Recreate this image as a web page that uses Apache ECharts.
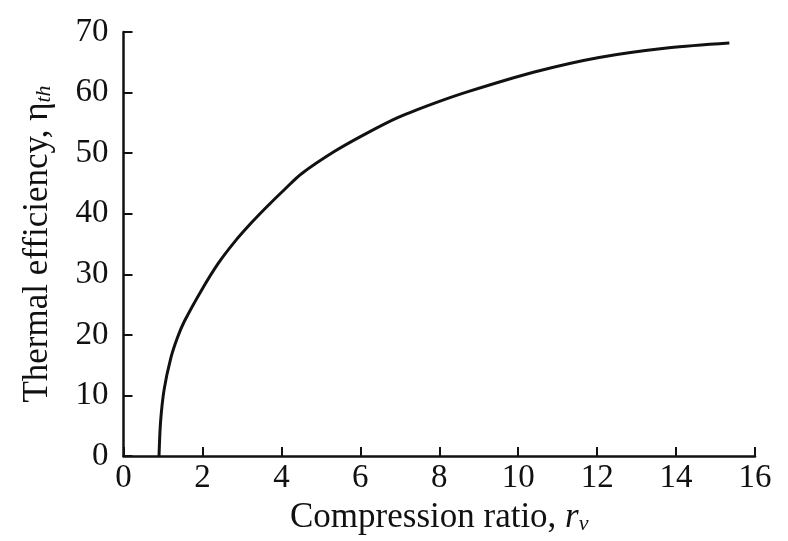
<!DOCTYPE html>
<html>
<head>
<meta charset="utf-8">
<script src="https://cdn.jsdelivr.net/npm/echarts@6/dist/echarts.min.js"></script>
<style>
html,body{margin:0;padding:0;background:#fff;}
#chart{width:788px;height:541px;}
</style>
</head>
<body>
<div id="chart"></div>
<script>
// Compression ratio (x) and thermal efficiency in % (y)
const ratio = [0.90, 0.94, 1.03, 1.20, 1.37, 1.54, 1.97, 2.40, 2.82, 3.24, 3.67, 4.08, 4.51, 5.35, 6.11, 6.96, 7.90, 8.75, 10.41, 12.05, 13.82, 15.35];
const efficiency = [0, 5.7, 11.0, 16.2, 19.6, 22.2, 27.3, 31.8, 35.4, 38.5, 41.4, 44.0, 46.6, 50.3, 53.1, 55.9, 58.3, 60.2, 63.4, 65.8, 67.4, 68.2];
const xTicks = [0, 2, 4, 6, 8, 10, 12, 14, 16];
const yTicks = [0, 10, 20, 30, 40, 50, 60, 70];

const font = '"Liberation Serif", "DejaVu Serif", serif';
const ink = '#111111';

const chart = echarts.init(document.getElementById('chart'), null, {renderer: 'canvas'});
chart.setOption({
  backgroundColor: '#ffffff',
  animation: false,
  grid: {left: 123.5, right: 33, top: 32, bottom: 85, containLabel: false},
  xAxis: {
    type: 'value',
    min: xTicks[0], max: xTicks[xTicks.length - 1], interval: 2,
    splitLine: {show: false},
    axisLine: {lineStyle: {color: ink, width: 2.5}},
    axisTick: {inside: true, length: 9, lineStyle: {color: ink, width: 2}},
    axisLabel: {color: ink, fontFamily: font, fontSize: 33, margin: 6},
    name: 'Compression ratio, {it|r}{sub|v}',
    nameLocation: 'middle',
    nameGap: 40,
    nameTextStyle: {
      color: ink, fontFamily: font, fontSize: 35,
      rich: {
        it: {fontFamily: font, fontSize: 35, fontStyle: 'italic', color: ink},
        sub: {fontFamily: font, fontSize: 22, fontStyle: 'italic', color: ink, padding: [14, 0, 0, 0]}
      }
    }
  },
  yAxis: {
    type: 'value',
    min: yTicks[0], max: yTicks[yTicks.length - 1], interval: 10,
    splitLine: {show: false},
    axisLine: {lineStyle: {color: ink, width: 2.5}},
    axisTick: {inside: true, length: 9, lineStyle: {color: ink, width: 2}},
    axisLabel: {color: ink, fontFamily: font, fontSize: 33, margin: 15},
    name: 'Thermal efficiency, η{sub|th}',
    nameLocation: 'middle',
    nameGap: 68,
    nameTextStyle: {
      color: ink, fontFamily: font, fontSize: 35,
      rich: {
        sub: {fontFamily: font, fontSize: 22, fontStyle: 'italic', color: ink, padding: [14, 0, 0, 0]}
      }
    }
  },
  series: [{
    type: 'line',
    data: ratio.map((r, i) => [r, efficiency[i]]),
    smooth: 0.3,
    showSymbol: false,
    lineStyle: {color: ink, width: 3}
  }]
});
</script>
</body>
</html>
